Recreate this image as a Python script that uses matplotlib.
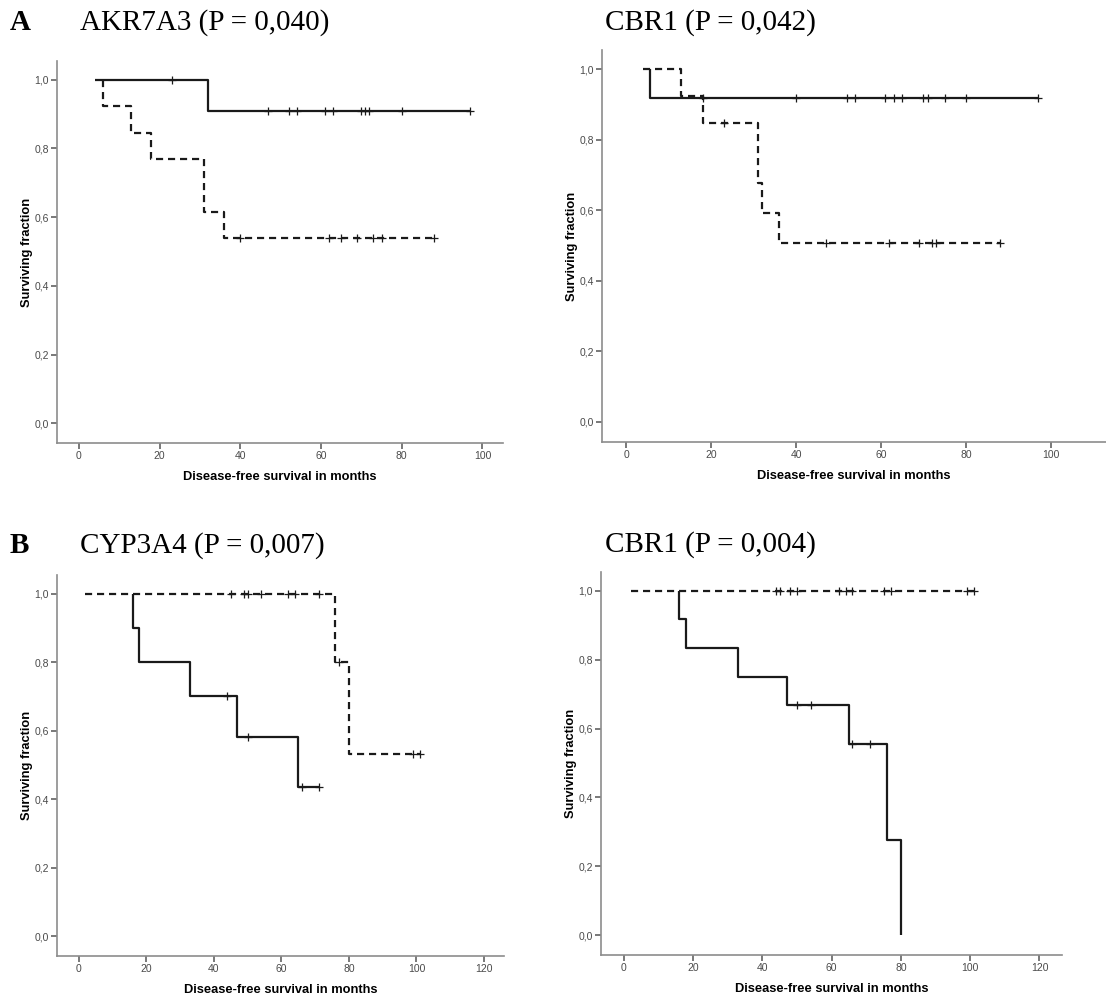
import numpy as np
import matplotlib
matplotlib.use("Agg")
import matplotlib.pyplot as plt

# --- data (months, surviving fraction) ---
# Panel A left: AKR7A3
akr_solid_t = [4, 32, 97]
akr_solid_s = [1.0, 0.909, 0.909]
akr_solid_cens = [23, 47, 52, 54, 61, 63, 70, 71, 72, 80, 97]
akr_dash_t = [6, 6, 13, 18, 31, 36, 88]
akr_dash_s = [1.0, 0.923, 0.846, 0.769, 0.615, 0.538, 0.538]
akr_dash_cens = [40, 62, 65, 69, 73, 75, 88]

# Panel A right: CBR1
cbra_solid_t = [5.5, 5.5, 97]
cbra_solid_s = [1.0, 0.917, 0.917]
cbra_solid_cens = [18, 40, 52, 54, 61, 63, 65, 70, 71, 75, 80, 97]
cbra_dash_t = [4, 13, 18, 31, 32, 36, 88]
cbra_dash_s = [1.0, 0.923, 0.846, 0.677, 0.592, 0.508, 0.508]
cbra_dash_cens = [23, 47, 62, 69, 72, 73, 88]

# Panel B left: CYP3A4
cyp_solid_t = [16, 16, 18, 33, 47, 65, 71]
cyp_solid_s = [1.0, 0.9, 0.8, 0.7, 0.583, 0.437, 0.437]
cyp_solid_cens = [44, 50, 66, 71]
cyp_dash_t = [2, 76, 80, 101]
cyp_dash_s = [1.0, 0.8, 0.533, 0.533]
cyp_dash_cens = [45, 49, 50, 54, 62, 64, 71, 77, 99, 101]

# Panel B right: CBR1
cbrb_solid_t = [16, 16, 18, 33, 47, 65, 76, 80, 80]
cbrb_solid_s = [1.0, 0.917, 0.833, 0.75, 0.667, 0.556, 0.278, 0.0, 0.0]
cbrb_solid_cens = [50, 54, 66, 71]
cbrb_dash_t = [2, 101]
cbrb_dash_s = [1.0, 1.0]
cbrb_dash_cens = [44, 45, 48, 50, 62, 64, 66, 75, 77, 99, 101]

panels = [
    # title, axes rect (px: left, top, right, bottom), xlim, xticks, curves
    ("AKR7A3 (P = 0,040)", (57, 61, 503, 443), (-5.4, 105.1), [0, 20, 40, 60, 80, 100],
     (akr_solid_t, akr_solid_s, akr_solid_cens), (akr_dash_t, akr_dash_s, akr_dash_cens)),
    ("CBR1 (P = 0,042)", (602, 50, 1106, 442), (-5.7, 113.0), [0, 20, 40, 60, 80, 100],
     (cbra_solid_t, cbra_solid_s, cbra_solid_cens), (cbra_dash_t, cbra_dash_s, cbra_dash_cens)),
    ("CYP3A4 (P = 0,007)", (57, 575, 504, 956), (-6.4, 125.9), [0, 20, 40, 60, 80, 100, 120],
     (cyp_solid_t, cyp_solid_s, cyp_solid_cens), (cyp_dash_t, cyp_dash_s, cyp_dash_cens)),
    ("CBR1 (P = 0,004)", (601, 572, 1062, 955), (-6.6, 126.5), [0, 20, 40, 60, 80, 100, 120],
     (cbrb_solid_t, cbrb_solid_s, cbrb_solid_cens), (cbrb_dash_t, cbrb_dash_s, cbrb_dash_cens)),
]

W, H = 1106, 994
fig = plt.figure(figsize=(W / 100, H / 100), dpi=100)
fig.patch.set_facecolor("white")

serif = "Liberation Serif"
sans = "Liberation Sans"


def step_value(t, s, x):
    i = np.searchsorted(np.array(t), x, side="right") - 1
    i = max(i, 0)
    return s[i]


for title, (l, t, r, b), xlim, xticks, solid, dashed in panels:
    ax = fig.add_axes([l / W, 1 - b / H, (r - l) / W, (b - t) / H])
    for (ts, ss, cens), ls in [(solid, "-"), (dashed, (0, (3.2, 2.2)))]:
        ax.step(ts, ss, where="post", color="#1a1a1a", lw=1.6, linestyle=ls,
                solid_capstyle="butt", dash_capstyle="butt")
        cy = [step_value(ts, ss, c) for c in cens]
        ax.plot(cens, cy, linestyle="none", marker="+", ms=6, mew=0.9, color="#1a1a1a")
    ax.set_xlim(*xlim)
    ax.set_ylim(-0.057, 1.054)
    ax.set_xticks(xticks)
    ax.set_xticklabels([str(x) for x in xticks])
    yt = [0.0, 0.2, 0.4, 0.6, 0.8, 1.0]
    ax.set_yticks(yt)
    ax.set_yticklabels([f"{v:.1f}".replace(".", ",") for v in yt])
    for side in ["top", "right"]:
        ax.spines[side].set_visible(False)
    for side in ["left", "bottom"]:
        ax.spines[side].set_color("#8c8c8c")
        ax.spines[side].set_linewidth(1.2)
    ax.tick_params(direction="out", length=4, width=1.1, color="#555555",
                   labelsize=7.5, labelcolor="#4a4a4a", pad=2)
    for lab in ax.get_xticklabels() + ax.get_yticklabels():
        lab.set_family(sans)
    ax.set_xlabel("Disease-free survival in months", fontsize=9.3, fontweight="bold",
                  family=sans, labelpad=7)
    ax.set_ylabel("Surviving fraction", fontsize=9.3, fontweight="bold",
                  family=sans, labelpad=0.5)
    ax.patch.set_visible(False)

# panel titles
fig.text(80 / W, 1 - 30 / H, panels[0][0], family=serif, fontsize=21, va="baseline")
fig.text(605 / W, 1 - 30 / H, panels[1][0], family=serif, fontsize=21, va="baseline")
fig.text(80 / W, 1 - 553 / H, panels[2][0], family=serif, fontsize=21, va="baseline")
fig.text(605 / W, 1 - 552 / H, panels[3][0], family=serif, fontsize=21, va="baseline")
fig.text(10 / W, 1 - 30 / H, "A", family=serif, fontsize=21, fontweight="bold", va="baseline")
fig.text(10 / W, 1 - 553 / H, "B", family=serif, fontsize=21, fontweight="bold", va="baseline")

fig.savefig("out.png", dpi=100)
